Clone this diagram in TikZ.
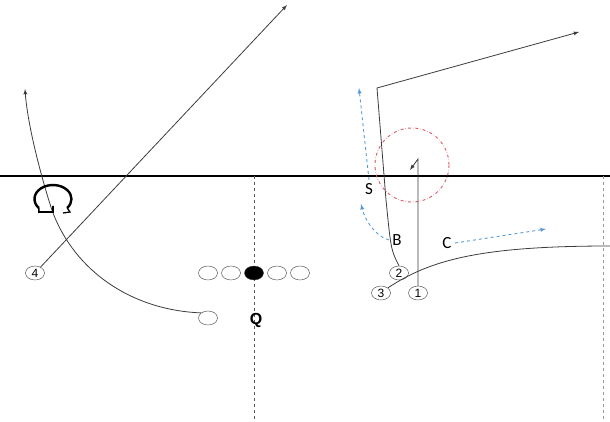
\documentclass[tikz,border=0pt]{standalone}
\usepackage{fontspec}
\setmainfont{Carlito}
\newfontfamily\numfont{Liberation Sans}
\usepackage{xcolor}
\usepackage{tikz}
\usetikzlibrary{arrows,shapes,decorations}

\definecolor{routegray}{RGB}{60,60,60}
\definecolor{readblue}{RGB}{91,155,213}
\definecolor{zonered}{RGB}{220,90,100}

\begin{document}
\begin{tikzpicture}[x=1pt, y=-1pt,
    player/.style={ellipse, draw=black!75, fill=white, minimum width=19pt,
      minimum height=14pt, inner sep=0pt, font=\numfont\fontsize{12}{12}\selectfont},
    route/.style={draw=routegray, line width=0.8pt},
    readarrow/.style={draw=readblue, dashed, line width=0.9pt, -latex},
    tag/.style={font=\fontsize{17}{17}\selectfont}]
  \useasboundingbox (0,0) rectangle (610,422);
  % field lines
  \draw[line width=1.3pt] (0,176) -- (610,176);
  \draw[dashed, black!65] (254,176) -- (254,422);
  \draw[dashed, black!40] (603,176) -- (603,422);
  % zone
  \draw[zonered, dash dot, line width=0.9pt] (412,165) circle (37);

  % offense line and backs
  \node[player] (lt) at (208,273) {};
  \node[player] (lg) at (231,273) {};
  \node[player, fill=black] (ctr) at (254,273) {};
  \node[player] (rg) at (277,273) {};
  \node[player] (rt) at (300,273) {};
  \node[player] (rb) at (208,318) {};
  \node[font=\numfont\bfseries\fontsize{16}{16}\selectfont] (qb) at (256,320) {Q};

  % receivers
  \node[player] (w4) at (35,273) {4};
  \node[player] (w3) at (381,293) {3};
  \node[player] (w1) at (418,293) {1};
  \node[player] (w2) at (399,273) {2};

  % defenders
  \node[tag] (s) at (369,189) {S};
  \node[tag] (b) at (397,240) {B};
  \node[tag] (cb) at (447,243) {C};

  \coordinate (deep4) at (287,5);
  \coordinate (wheel) at (25,89);
  \coordinate (post2) at (377,88);
  \coordinate (corner2) at (579,32);
  \coordinate (turn1) at (418,159);
  \coordinate (sit1) at (410,170);
  \coordinate (out3) at (610,246);

  % routes
  \draw[route, -latex] (w4) -- (deep4);
  \draw[route, -latex] (rb.north west) .. controls (130,310) and (75,270) ..
    (53,213) .. controls (45,190) and (28,130) .. (wheel);
  \draw[route, -latex] (w2.north) .. controls (391,250) .. (386,200)
    -- (post2) -- (corner2);
  \draw[route, -latex] (w1.north) -- (turn1) -- (sit1);
  \draw[route] (w3.north east) .. controls (430,260) and (480,246) .. (out3);

  % motion mark
  \draw[line width=2.4pt] (38.8,208) arc[start angle=140, end angle=400,
    x radius=18.5, y radius=14];
  \draw[line width=1.6pt] (38.8,208) -- (39,212) -- (53,212) -- (53,206);
  \draw[line width=1.3pt] (67.2,208) -- (70,212) -- (63,213);

  % reads
  \draw[readarrow] (s.north) -- (359,88);
  \draw[readarrow] (b.west) .. controls (375,236) and (365,220) .. (361,204);
  \draw[readarrow] (cb.east) -- (546,229);
\end{tikzpicture}
\end{document}
